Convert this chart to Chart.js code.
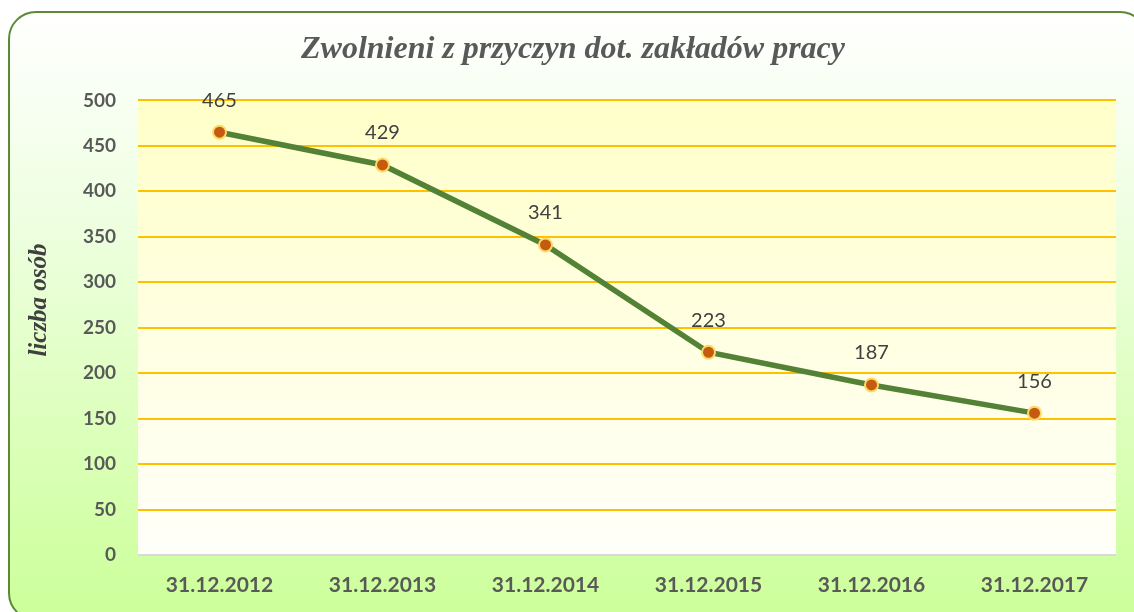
<!DOCTYPE html>
<html lang="pl">
<head>
<meta charset="UTF-8">
<title>Zwolnieni z przyczyn dot. zakładów pracy</title>
<script src="https://cdn.jsdelivr.net/npm/chart.js@4.4.1/dist/chart.umd.min.js"></script>
<style>
    html, body { margin: 0; padding: 0; background: #ffffff; overflow: hidden; }
    .frame {
        position: absolute; left: 8px; top: 11px; width: 1140px; height: 610px;
        border: 2px solid #5b8a33; border-radius: 28px; box-sizing: border-box;
        background: linear-gradient(to bottom, #ffffff 0%, #eeffe0 35%, #ccff99 100%);
    }
    .wrap { position: absolute; left: 0; top: 0; width: 1134px; height: 612px; }
</style>
</head>
<body>
<div class="frame"></div>
<div class="wrap"><canvas id="chart" width="1134" height="612"></canvas></div>
<script>
    // dane
    const dates = ['31.12.2012', '31.12.2013', '31.12.2014', '31.12.2015', '31.12.2016', '31.12.2017'];
    const persons = [465, 429, 341, 223, 187, 156];
    const yTicks = [0, 50, 100, 150, 200, 250, 300, 350, 400, 450, 500];
    const yTitle = 'liczba osób';

    // tło obszaru wykresu
    const plotBg = {
        id: 'plotBg',
        beforeDraw(chart) {
            const { ctx, chartArea: a } = chart;
            const g = ctx.createLinearGradient(0, a.top, 0, a.bottom);
            g.addColorStop(0, '#ffffc9');
            g.addColorStop(1, '#fffffa');
            ctx.save();
            ctx.fillStyle = g;
            ctx.fillRect(a.left, a.top, a.right - a.left, a.bottom - a.top);
            ctx.restore();
        }
    };

    // tytuł osi Y (przesunięty wyżej niż środek osi, jak w oryginale)
    const axisTitle = {
        id: 'axisTitle',
        afterDraw(chart) {
            const ctx = chart.ctx;
            ctx.save();
            ctx.translate(40, 300);
            ctx.rotate(-Math.PI / 2);
            ctx.font = 'italic bold 25px "Liberation Serif", "Times New Roman", serif';
            ctx.fillStyle = '#404040';
            ctx.textAlign = 'center';
            ctx.textBaseline = 'middle';
            ctx.fillText(yTitle, 0, 0);
            ctx.restore();
        }
    };

    // etykiety wartości nad punktami
    const valueLabels = {
        id: 'valueLabels',
        afterDatasetsDraw(chart) {
            const ctx = chart.ctx;
            const meta = chart.getDatasetMeta(0);
            ctx.save();
            ctx.font = '20px Lato, "Open Sans", sans-serif';
            ctx.fillStyle = '#404040';
            ctx.textAlign = 'center';
            ctx.textBaseline = 'middle';
            meta.data.forEach((pt, i) => {
                ctx.fillText(String(persons[i]), pt.x, pt.y - 32);
            });
            ctx.restore();
        }
    };

    new Chart(document.getElementById('chart'), {
        type: 'line',
        data: {
            labels: dates,
            datasets: [{
                data: persons,
                borderColor: '#538135',
                borderWidth: 5.5,
                pointBackgroundColor: '#c55a11',
                pointBorderColor: '#ffd966',
                pointBorderWidth: 2,
                pointRadius: 6.5,
                tension: 0
            }]
        },
        options: {
            responsive: false,
            animation: false,
            layout: { padding: { left: 30, right: 18, top: 10, bottom: 4 } },
            plugins: {
                legend: { display: false },
                tooltip: { enabled: false },
                title: {
                    display: true,
                    text: 'Zwolnieni z przyczyn dot. zakładów pracy',
                    color: '#595959',
                    font: { family: '"Liberation Serif", "Times New Roman", serif', size: 32, style: 'italic', weight: 'bold' },
                    padding: { top: 21, bottom: 31 }
                }
            },
            scales: {
                x: {
                    offset: true,
                    grid: { display: false, drawTicks: false },
                    border: { display: false },
                    ticks: {
                        color: '#595959',
                        padding: 18,
                        maxRotation: 0,
                        font: { family: 'Lato, "Open Sans", sans-serif', size: 21, weight: 'bold' }
                    },
                    afterFit(s) { s.height = 53; }
                },
                y: {
                    min: 0,
                    max: 500,
                    afterBuildTicks(s) { s.ticks = yTicks.map(v => ({ value: v })); },
                    grid: {
                        color: c => c.tick.value === 0 ? '#d9d9d9' : '#ffc000',
                        lineWidth: 2,
                        drawTicks: false
                    },
                    border: { display: false },
                    ticks: {
                        color: '#595959',
                        padding: 22,
                        font: { family: 'Lato, "Open Sans", sans-serif', size: 19, weight: 'bold' }
                    },
                    afterFit(s) { s.width = 108; }
                }
            }
        },
        plugins: [plotBg, valueLabels, axisTitle]
    });
</script>
</body>
</html>
